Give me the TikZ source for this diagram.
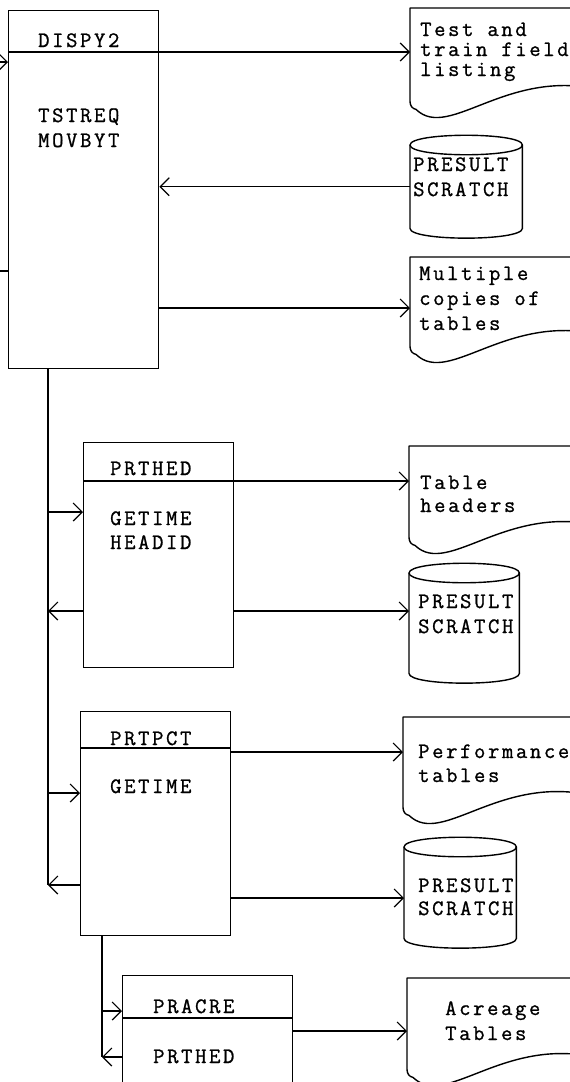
\documentclass[tikz,border=0pt]{standalone}
\usepackage{fontspec}
\setmonofont[LetterSpace=12,FakeBold=1]{Latin Modern Mono}
\usetikzlibrary{arrows.meta,calc}

\tikzset{
  flow/.style={line width=1.2pt},
  into/.style={flow, -{Straight Barb[length=9pt,width=18pt,line width=1.2pt]}},
  modbox/.style={draw, line width=1.4pt, anchor=north west, inner sep=0, minimum width=150pt},
  fileedge/.style={line width=1.4pt, line join=round},
  filebox/.style={anchor=north west, inner sep=0, minimum width=200pt},
  drumbox/.style={anchor=north west, inner sep=0, minimum width=112pt},
  lbl/.style={anchor=base west, inner sep=0, align=left,
    font=\ttfamily\fontsize{22}{24}\selectfont}
}

% printed-output symbol with a wavy bottom edge
\newcommand{\docshape}[1]{%
  \draw[fileedge] ($(#1.south west)+(0,-6)$) -- (#1.north west) -- (#1.north east)
    -- ($(#1.south east)+(0,-15)$)
    .. controls ($(#1.south west)+(100,-45)$) and ($(#1.south west)+(40,35)$) .. ($(#1.south west)+(6,2)$)
    to[out=170, in=-90] ($(#1.south west)+(0,-6)$);}

% disk file symbol
\newcommand{\drumshape}[1]{%
  \draw[fileedge] ($(#1.north west)+(0,10)$) -- ($(#1.south west)+(0,-10)$)
    .. controls ($(#1.south west)+(0,3)$) and ($(#1.south east)+(0,3)$) .. ($(#1.south east)+(0,-10)$)
    -- ($(#1.north east)+(0,10)$)
    .. controls ($(#1.north east)+(0,-3)$) and ($(#1.north west)+(0,-3)$) .. cycle;
  \draw[fileedge] ($(#1.north west)+(0,10)$)
    .. controls ($(#1.north west)+(0,23)$) and ($(#1.north east)+(0,23)$) .. ($(#1.north east)+(0,10)$);}

\begin{document}
\begin{tikzpicture}[x=1pt, y=-1pt]
  \useasboundingbox (0,0) rectangle (570,1082);
  \clip (0,0) rectangle (570,1082);

  % modules
  \node[modbox, minimum height=358pt] (dispy) at (8,10) {};
  \coordinate (dispydiv) at ($(dispy.north west)+(0,42)$);
  \draw[flow] (dispydiv) -- (dispydiv -| dispy.east);
  \node[lbl] (dispyname) at (38,47) {DISPY2};
  \node[lbl, font=\ttfamily\fontsize{22}{25}\selectfont] (dispycalls) at (38,147) {TSTREQ\\MOVBYT};

  \node[modbox, minimum height=225pt] (prthed) at (83,442) {};
  \coordinate (prtheddiv) at ($(prthed.north west)+(0,39)$);
  \draw[flow] (prtheddiv) -- (prtheddiv -| prthed.east);
  \node[lbl] (prthedname) at (110,475) {PRTHED};
  \node[lbl] (prthedcalls) at (110,549) {GETIME\\HEADID};

  \node[modbox, minimum height=224pt] (prtpct) at (80,711) {};
  \coordinate (prtpctdiv) at ($(prtpct.north west)+(0,37)$);
  \draw[flow] (prtpctdiv) -- (prtpctdiv -| prtpct.east);
  \node[lbl] (prtpctname) at (110,745) {PRTPCT};
  \node[lbl] (prtpctcalls) at (110,793) {GETIME};

  \node[modbox, minimum width=170pt, minimum height=160pt] (pracre) at (122,975) {};
  \coordinate (pracrediv) at ($(pracre.north west)+(0,43)$);
  \draw[flow] (pracrediv) -- (pracrediv -| pracre.east);
  \node[lbl] (pracrename) at (153,1013) {PRACRE};
  \node[lbl] (pracrecalls) at (153,1063) {PRTHED};

  % reports and files
  \node[filebox, minimum height=99pt] (testlist) at (410,8) {};
  \docshape{testlist}
  \node[lbl, font=\ttfamily\fontsize{22}{20}\selectfont] (testtxt) at (420,76) {Test and\\train field\\listing};

  \node[drumbox, minimum height=103pt] (scratch1) at (410,135) {};
  \drumshape{scratch1}
  \node[lbl, font=\ttfamily\fontsize{22}{25}\selectfont] (s1txt) at (413,196) {PRESULT\\SCRATCH};

  \node[filebox, minimum height=95pt] (copies) at (410,257) {};
  \docshape{copies}
  \node[lbl, font=\ttfamily\fontsize{22}{25}\selectfont] (copiestxt) at (419,330) {Multiple\\copies of\\tables};

  \node[filebox, minimum height=97pt] (headers) at (409,446) {};
  \docshape{headers}
  \node[lbl, font=\ttfamily\fontsize{22}{23}\selectfont] (headerstxt) at (420,512) {Table\\headers};

  \node[drumbox, minimum width=110pt, minimum height=120pt] (scratch2) at (409,563) {};
  \drumshape{scratch2}
  \node[lbl, font=\ttfamily\fontsize{22}{25}\selectfont] (s2txt) at (418,633) {PRESULT\\SCRATCH};

  \node[filebox, minimum height=96pt] (perf) at (403,717) {};
  \docshape{perf}
  \node[lbl] (perftxt) at (418,782) {Performance\\tables};

  \node[drumbox, minimum height=111pt] (scratch3) at (404,837) {};
  \drumshape{scratch3}
  \node[lbl, font=\ttfamily\fontsize{22}{23}\selectfont] (s3txt) at (418,915) {PRESULT\\SCRATCH};

  \node[filebox, minimum height=97pt] (acreage) at (407,978) {};
  \docshape{acreage}
  \node[lbl, font=\ttfamily\fontsize{22}{25}\selectfont] (acretxt) at (445,1040) {Acreage\\Tables};

  % connectors of DISPY2
  \coordinate (in0) at (-2,62);
  \coordinate (in1) at (-2,271);
  \coordinate (dispyout) at ($(dispy.north west)+(0,298)$);
  \draw[into] (in0) -- (in0 -| dispy.west);
  \draw[flow] (in1) -- (in1 -| dispy.west);
  \draw[into] (dispydiv -| dispy.east) -- (dispydiv -| testlist.west);
  \draw[into] (scratch1.west) -- (scratch1.west -| dispy.east);
  \draw[into] (dispyout -| dispy.east) -- (dispyout -| copies.west);

  % main bus
  \coordinate (bus1) at ($(dispy.south west)+(40,0)$);
  \coordinate (prthedin) at ($(prthed.north west)+(0,70)$);
  \coordinate (prthedio) at ($(prthed.north west)+(0,169)$);
  \coordinate (prtpctin) at ($(prtpct.north west)+(0,82)$);
  \coordinate (prtpctret) at ($(prtpct.north west)+(0,174)$);
  \coordinate (prtpctout) at ($(prtpct.north west)+(0,41)$);
  \coordinate (prtpctsav) at ($(prtpct.north west)+(0,187)$);
  \draw[flow] (bus1) -- (prtpctret -| bus1);
  \draw[into] (prthedin -| bus1) -- (prthedin);
  \draw[into] (prthedio -| prthed.west) -- (prthedio -| bus1);
  \draw[into] (prtpctin -| bus1) -- (prtpctin);
  \draw[into] (prtpctret) -- (prtpctret -| bus1);

  % outputs of PRTHED and PRTPCT
  \draw[into] (prtheddiv -| prthed.east) -- (prtheddiv -| headers.west);
  \draw[into] (prthedio -| prthed.east) -- (prthedio -| scratch2.west);
  \draw[into] (prtpctout -| prtpct.east) -- (prtpctout -| perf.west);
  \draw[into] (prtpctsav -| prtpct.east) -- (prtpctsav -| scratch3.west);

  % second bus
  \coordinate (bus2) at ($(prtpct.south west)+(22,0)$);
  \coordinate (pracrein) at ($(pracre.north west)+(0,36)$);
  \coordinate (pracreret) at ($(pracre.north west)+(0,82)$);
  \coordinate (pracreout) at ($(pracre.north west)+(0,56)$);
  \draw[flow] (bus2) -- (pracreret -| bus2);
  \draw[into] (pracrein -| bus2) -- (pracrein);
  \draw[into] (pracreret) -- (pracreret -| bus2);
  \draw[into] (pracreout -| pracre.east) -- (pracreout -| acreage.west);
\end{tikzpicture}
\end{document}
